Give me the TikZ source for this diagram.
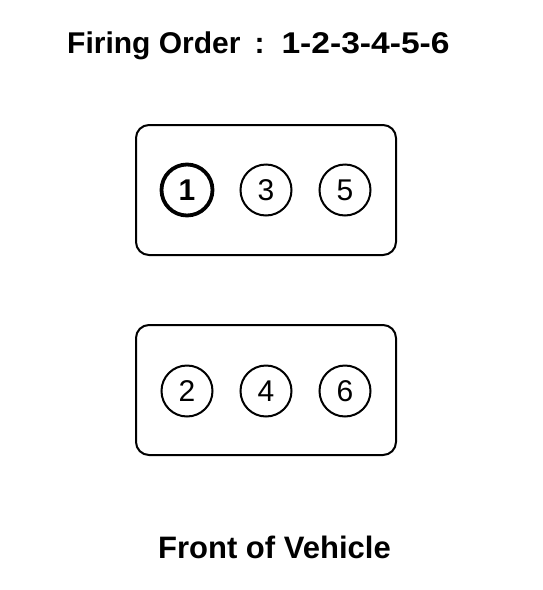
\documentclass[tikz,border=0pt]{standalone}
\usepackage{fontspec}
\usepackage{graphicx}
\setmainfont{Liberation Sans}
\begin{document}
\begin{tikzpicture}[x=1pt,y=1pt,
  headtext/.style={font=\fontsize{30}{34}\selectfont\bfseries, inner sep=0pt, anchor=base west},
  blockbox/.style={draw, line width=2pt, rounded corners=13pt, minimum width=260pt, minimum height=130pt, inner sep=0pt},
  cyl/.style={draw, circle, line width=2pt, minimum size=51pt, inner sep=0pt, font=\fontsize{30}{32}\selectfont},
  cylone/.style={cyl, line width=3.8pt, font=\fontsize{30}{32}\selectfont\bfseries}]
\useasboundingbox (0,0) rectangle (542,-590);
\node[headtext] (title) at (67,-53) {Firing Order\hspace{14pt}:\hspace{17pt}\scalebox{1.12}[1]{1-2-3-4-5-6}};
\node[blockbox] (top) at (266,-190) {};
\node[blockbox] (bot) at (266,-390) {};
\node[cylone] (c1) at (187,-190) {1};
\node[cyl] (c3) at (266,-190) {3};
\node[cyl] (c5) at (345,-190) {5};
\node[cyl] (c2) at (187,-391) {2};
\node[cyl] (c4) at (266,-391) {4};
\node[cyl] (c6) at (345,-391) {6};
\node[headtext, font=\fontsize{31}{34}\selectfont\bfseries] (front) at (158,-558) {Front of Vehicle};
\end{tikzpicture}
\end{document}
